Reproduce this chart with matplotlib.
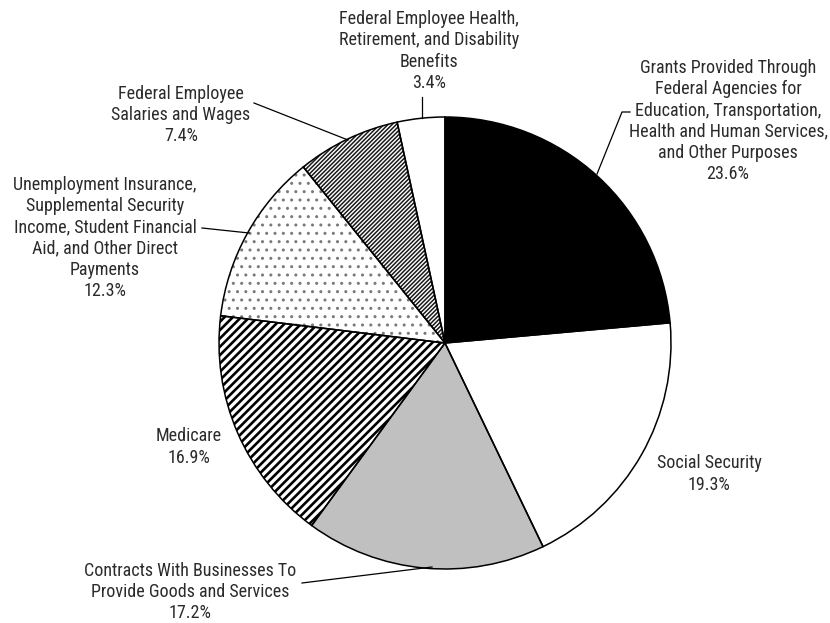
import matplotlib.pyplot as plt

plt.rcParams['font.family'] = ['Roboto Condensed', 'Archivo Narrow', 'Liberation Sans Narrow',
                               'Roboto', 'DejaVu Sans']

# federal spending shares, clockwise from 12 o'clock
categories = [
    "Grants Provided Through\nFederal Agencies for\nEducation, Transportation,\nHealth and Human Services,\nand Other Purposes",
    "Social Security",
    "Contracts With Businesses To\nProvide Goods and Services",
    "Medicare",
    "Unemployment Insurance,\nSupplemental Security\nIncome, Student Financial\nAid, and Other Direct\nPayments",
    "Federal Employee\nSalaries and Wages",
    "Federal Employee Health,\nRetirement, and Disability\nBenefits",
]
shares = [23.6, 19.3, 17.2, 16.9, 12.3, 7.4, 3.4]

# wedge fills
face_colors = ['black', 'white', '#c0c0c0', 'white', 'white', 'white', '#ffffff']
hatches = [None, None, None, '////', '..', '////////', None]
hatch_colors = ['black', 'black', 'black', 'black', '#7a7a7a', '#1a1a1a', 'black']
hatch_widths = [1, 1, 1, 1.9, 1, 1.1, 1]

# layout in pixels (y measured from the top)
W, H = 830, 623
center = (445, 343)
radius = 226
label_pos = [(728, 121), (709, 474), (190, 592), (189, 447), (105, 238), (181, 115), (429, 51)]
leaders = [
    [(630, 112), (622, 112), (597, 174)],
    None,
    [(302, 583), (432, 567)],
    None,
    [(202, 228), (249, 233)],
    [(254, 103), (348, 140)],
    [(422, 97), (422, 118)],
]

fig = plt.figure(figsize=(W / 100, H / 100), dpi=100)
ax = fig.add_axes([0, 0, 1, 1])

pie_center = (center[0], H - center[1])

# fill + hatch layer
wedges, _ = ax.pie(shares, center=pie_center, radius=radius, startangle=90,
                   counterclock=False, colors=face_colors, frame=True,
                   wedgeprops=dict(linewidth=0))
for w, h, hc, hw in zip(wedges, hatches, hatch_colors, hatch_widths):
    if h:
        w.set_hatch(h)
        w.set_edgecolor(hc)
        if hasattr(w, 'set_hatch_linewidth'):
            w.set_hatch_linewidth(hw)

# outlines on top
ax.pie(shares, center=pie_center, radius=radius, startangle=90,
       counterclock=False, frame=True,
       wedgeprops=dict(facecolor='none', edgecolor='black', linewidth=1.1))
ax.set_xlim(0, W)
ax.set_ylim(0, H)
ax.axis('off')

for name, val, (x, y), lead in zip(categories, shares, label_pos, leaders):
    ax.text(x, H - y, f"{name}\n{val}%", ha='center', va='center',
            fontsize=13, color='#2b2b2b', linespacing=1.22)
    if lead:
        xs = [p[0] for p in lead]
        ys = [H - p[1] for p in lead]
        ax.plot(xs, ys, color='black', lw=0.9)

plt.savefig('out.png', dpi=100)
